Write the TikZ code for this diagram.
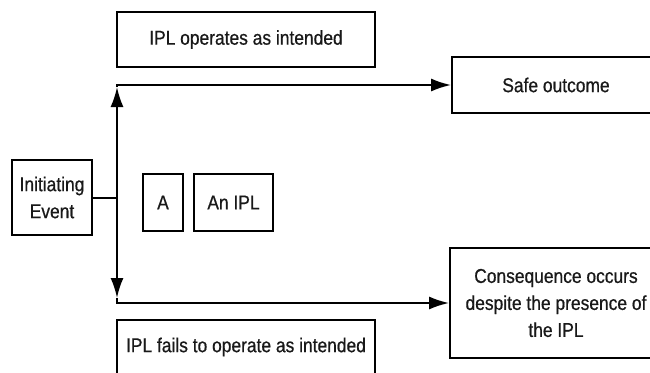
\documentclass[tikz,border=0pt]{standalone}
\usepackage{fontspec}
\setmainfont[FakeStretch=0.87,FakeBold=0.6]{Liberation Sans}
\usetikzlibrary{arrows.meta}
\begin{document}
\begin{tikzpicture}[x=1pt,y=-1pt,
  box/.style={draw=black, line width=1.8pt, align=center, inner sep=0pt,
    font=\fontsize{20}{27}\selectfont, text=black!90},
  link/.style={draw=black, line width=2pt},
  tip/.style={-{Latex[length=20pt,width=13pt]}}]
\useasboundingbox (0,0) rectangle (650,372);
\clip (0,0) rectangle (650,372);
\fill[white] (0,0) rectangle (650,372);

% boxes
\node[box, minimum width=258pt, minimum height=55pt] (ok) at (246,39.5) {IPL operates as intended};
\node[box, minimum width=208pt, minimum height=56pt] (safe) at (556,85) {Safe outcome};
\node[box, minimum width=80pt, minimum height=75pt] (init) at (52,197.5) {Initiating\\Event};
\node[box, minimum width=40pt, minimum height=57pt] (a) at (163,202.5) {A};
\node[box, minimum width=79pt, minimum height=57pt] (ipl) at (233.5,202.5) {An IPL};
\node[box, minimum width=212pt, minimum height=110pt] (cons) at (556,303) {Consequence occurs\\despite the presence of\\the IPL};
\node[box, minimum width=258pt, minimum height=54pt] (fail) at (246,347) {IPL fails to operate as intended};

% branch point and arrow tips on the vertical stem
\coordinate (junc) at (117,197.5);
\coordinate (upTip) at (117,87);
\coordinate (dnTip) at (117,298);

\draw[link] (init.east) -- (junc);
\draw[link, tip] (junc) -- (upTip);
\draw[link, tip] (junc) -- (dnTip);
\draw[link, tip] (upTip) |- (safe.west);
\draw[link, tip] (dnTip) |- (cons.west);
\end{tikzpicture}
\end{document}
